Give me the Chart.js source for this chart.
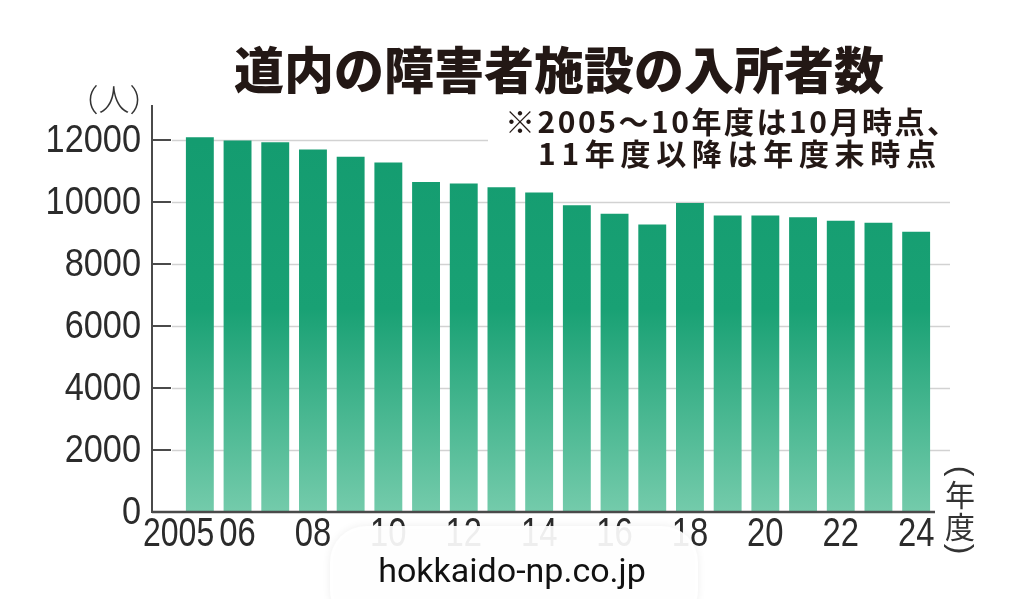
<!DOCTYPE html>
<html lang="ja">
<head>
<meta charset="utf-8">
<title>道内の障害者施設の入所者数</title>
<script src="https://cdn.jsdelivr.net/npm/chart.js@4.4.1/dist/chart.umd.min.js"></script>
<style>
  html, body { margin: 0; padding: 0; background: #fff; }
  #wrap { width: 1024px; height: 599px; position: relative; }
</style>
</head>
<body>
<div id="wrap"><canvas id="chart"></canvas></div>
<script>
'use strict';

// 年度 (2005 - 2024)
var years = ['2005', '2006', '2007', '2008', '2009', '2010', '2011', '2012', '2013', '2014',
             '2015', '2016', '2017', '2018', '2019', '2020', '2021', '2022', '2023', '2024'];
// 入所者数 (人)
var residents = [12090, 11990, 11930, 11700, 11460, 11280, 10650, 10600, 10480, 10310,
                 9900, 9620, 9280, 9970, 9570, 9570, 9510, 9400, 9330, 9040];
// 横軸の表示ラベル
var xTickLabels = ['2005', '06', '', '08', '', '10', '', '12', '', '14',
                   '', '16', '', '18', '', '20', '', '22', '', '24'];
var yTicks = [0, 2000, 4000, 6000, 8000, 10000, 12000];

var title = '道内の障害者施設の入所者数';
var noteLines = ['※2005～10年度は10月時点、', '11年度以降は年度末時点'];
var unitY = '（人）';
var unitX = ['年', '度'];
var credit = 'hokkaido-np.co.jp';

var NUM_FONT = "'Liberation Sans', Arial, sans-serif";
var JP_FONT = "'Noto Sans CJK JP', 'Noto Sans', sans-serif";

function line(ctx, x1, y1, x2, y2) {
    ctx.beginPath();
    ctx.moveTo(x1, y1);
    ctx.lineTo(x2, y2);
    ctx.stroke();
}

// narrow numbers: squeeze the glyphs horizontally
function narrowText(ctx, text, x, y, align, sx) {
    ctx.save();
    ctx.translate(x, y);
    ctx.scale(sx, 1);
    ctx.textAlign = align;
    ctx.fillText(text, 0, 0);
    ctx.restore();
}

// fit a line of text to a given width with letter spacing
function spacedText(ctx, text, x, y, width) {
    ctx.letterSpacing = '0px';
    var w = ctx.measureText(text).width;
    var sp = (width - w) / (text.length - 1);
    ctx.letterSpacing = sp.toFixed(2) + 'px';
    ctx.fillText(text, x, y);
    ctx.letterSpacing = '0px';
}

var decor = {
    id: 'decor',
    beforeDatasetsDraw: function (chart) {
        var ctx = chart.ctx;
        var y = chart.scales.y;
        var area = chart.chartArea;
        var axisX = area.left - 29;
        ctx.save();
        ctx.strokeStyle = '#d2d2d2';
        ctx.lineWidth = 1.5;
        yTicks.forEach(function (v) {
            if (v === 0) return;
            var py = Math.round(y.getPixelForValue(v)) + 0.5;
            line(ctx, axisX + 20, py, area.right + 15, py);
        });
        ctx.restore();
    },
    afterDraw: function (chart) {
        var ctx = chart.ctx;
        var x = chart.scales.x;
        var y = chart.scales.y;
        var area = chart.chartArea;
        var axisX = area.left - 29;
        var zeroY = y.getPixelForValue(0);

        ctx.save();
        // axes
        ctx.strokeStyle = '#4a4a4a';
        ctx.lineWidth = 2;
        line(ctx, axisX, area.top - 1, axisX, zeroY + 1);
        yTicks.forEach(function (v) {
            if (v === 0) return;
            var py = Math.round(y.getPixelForValue(v));
            line(ctx, axisX + 1, py, axisX + 19, py);
        });
        ctx.lineWidth = 2.5;
        line(ctx, axisX, zeroY, area.right, zeroY);

        // y labels
        ctx.fillStyle = '#2b2b2b';
        ctx.font = '39px ' + NUM_FONT;
        ctx.textBaseline = 'middle';
        yTicks.forEach(function (v) {
            narrowText(ctx, String(v), axisX - 11, y.getPixelForValue(v) + 1, 'right', 0.88);
        });

        // x labels
        ctx.font = '41px ' + NUM_FONT;
        var step = x.getPixelForValue(1) - x.getPixelForValue(0);
        xTickLabels.forEach(function (lab, i) {
            if (!lab) return;
            var px = x.getPixelForValue(i);
            if (i === 0) {
                narrowText(ctx, lab, px + step * 0.38, zeroY + 23, 'right', 0.78);
            } else {
                narrowText(ctx, lab, px, zeroY + 23, 'center', 0.8);
            }
        });

        // title
        ctx.fillStyle = '#231815';
        ctx.textAlign = 'center';
        ctx.font = '900 50px ' + JP_FONT;
        ctx.fillText(title, 559, 70);

        // note box
        ctx.fillStyle = '#fff';
        ctx.fillRect(488, 103, 470, 80);
        ctx.fillStyle = '#231815';
        ctx.textAlign = 'left';
        ctx.font = '700 30px ' + JP_FONT;
        spacedText(ctx, noteLines[0], 505, 122, 452);
        spacedText(ctx, noteLines[1], 538, 154, 398);

        // unit labels
        ctx.fillStyle = '#333';
        ctx.textAlign = 'center';
        ctx.font = '300 31px ' + JP_FONT;
        ctx.fillText(unitY, 114, 99);

        ctx.font = '400 30px ' + JP_FONT;
        ctx.fillText(unitX[0], 960, 495);
        ctx.fillText(unitX[1], 960, 527);
        ctx.font = '300 32px ' + NUM_FONT;
        ctx.save();
        ctx.translate(960, 471);
        ctx.rotate(Math.PI / 2);
        ctx.fillText('(', 0, 0);
        ctx.restore();
        ctx.save();
        ctx.translate(960, 549);
        ctx.rotate(Math.PI / 2);
        ctx.fillText(')', 0, 0);
        ctx.restore();

        // credit pill
        ctx.shadowColor = 'rgba(0,0,0,0.08)';
        ctx.shadowBlur = 8;
        ctx.fillStyle = 'rgba(255,255,255,0.92)';
        ctx.beginPath();
        ctx.roundRect(330, 526, 368, 100, 36);
        ctx.fill();
        ctx.shadowColor = 'transparent';
        ctx.fillStyle = '#111';
        ctx.font = '34px Roboto, sans-serif';
        ctx.textBaseline = 'alphabetic';
        ctx.fillText(credit, 512, 582);
        ctx.restore();
    }
};

var ctx = document.getElementById('chart').getContext('2d');
var chart = new Chart(ctx, {
    type: 'bar',
    data: {
        labels: years,
        datasets: [{
            data: residents,
            backgroundColor: function (c) {
                var a = c.chart.chartArea;
                if (!a) return '#18a073';
                var g = c.chart.ctx.createLinearGradient(0, a.top, 0, a.bottom);
                g.addColorStop(0, '#139b6f');
                g.addColorStop(0.5, '#19a174');
                g.addColorStop(1, '#74cbab');
                return g;
            },
            borderWidth: 0,
            barPercentage: 0.74,
            categoryPercentage: 1
        }]
    },
    options: {
        responsive: true,
        maintainAspectRatio: false,
        animation: false,
        layout: { padding: { left: 0, right: 89, top: 106, bottom: 87 } },
        plugins: {
            legend: { display: false },
            tooltip: { enabled: false }
        },
        scales: {
            x: { display: false, offset: true },
            y: {
                min: 0,
                max: 13100,
                grid: { display: false, drawTicks: false },
                border: { display: false },
                ticks: { display: false, stepSize: 2000 },
                afterBuildTicks: function (s) {
                    s.ticks = yTicks.map(function (v) { return { value: v }; });
                },
                afterFit: function (s) { s.width = 181; }
            }
        }
    },
    plugins: [decor]
});
</script>
</body>
</html>
